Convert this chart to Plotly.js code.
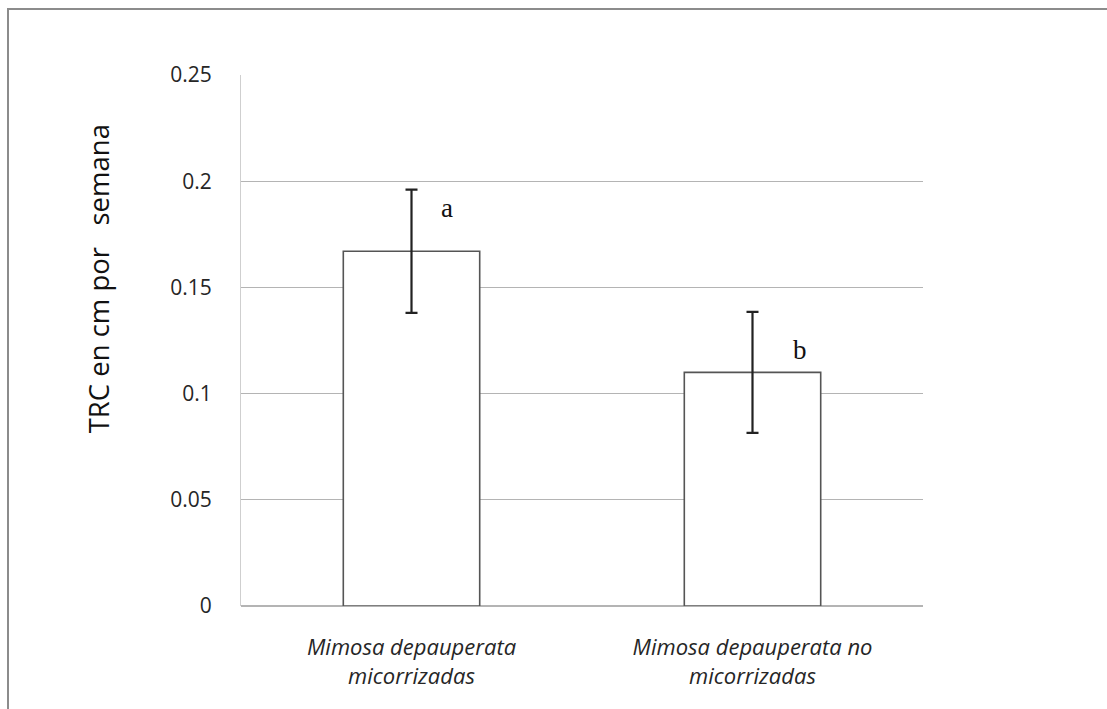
<!DOCTYPE html>
<html>
<head>
<meta charset="utf-8">
<script src="https://cdn.plot.ly/plotly-3.0.1.min.js"></script>
<style>
  html, body { margin: 0; padding: 0; background: #fff; }
  #wrap { position: relative; width: 1107px; height: 709px; overflow: hidden; }
  #frame { position: absolute; left: 7px; top: 8px; right: -4px; bottom: -4px;
           border-top: 2px solid #8c8c8c; border-left: 2px solid #8c8c8c; pointer-events: none; }
  #chart { position: absolute; left: 0; top: 0; width: 1107px; height: 709px; }
</style>
</head>
<body>
<div id="wrap">
  <div id="chart"></div>
  <div id="frame"></div>
</div>
<script>
// Tasa relativa de crecimiento (cm por semana) por tratamiento
const categories = ['Mimosa depauperata<br>micorrizadas', 'Mimosa depauperata no<br>micorrizadas'];
const means = [0.167, 0.110];
const errors = [0.029, 0.0285];
const groupLetters = ['a', 'b'];
const yTickValues = [0, 0.05, 0.1, 0.15, 0.2, 0.25];
const yTickLabels = ['0', '0.05', '0.1', '0.15', '0.2', '0.25'];
const yTitle = 'TRC en cm por\u00a0\u00a0 semana';

const bars = {
  type: 'bar',
  x: categories,
  y: means,
  marker: { color: '#ffffff', line: { color: '#555555', width: 1.6 } },
  error_y: { type: 'data', array: errors, visible: true, color: '#222222', thickness: 2.2, width: 6 },
  hoverinfo: 'skip'
};

// letter placement offsets (pixels) beside each error bar
const letterShift = [{ x: 35, y: -18 }, { x: 47, y: -38 }];

const annotations = groupLetters.map((t, i) => ({
  x: categories[i], y: means[i] + errors[i], xref: 'x', yref: 'y',
  text: t, showarrow: false, xshift: letterShift[i].x, yshift: letterShift[i].y,
  xanchor: 'center', yanchor: 'middle',
  font: { family: 'Liberation Serif, Times New Roman, serif', size: 27, color: '#111' }
}));

annotations.push({
  xref: 'paper', yref: 'paper', x: -0.209, y: 0.616,
  text: yTitle, textangle: -90, showarrow: false,
  xanchor: 'center', yanchor: 'middle',
  font: { family: 'Open Sans, sans-serif', size: 27.5, color: '#111' }
});

const layout = {
  width: 1107, height: 709,
  margin: { l: 241, r: 184, t: 75, b: 103, pad: 0 },
  paper_bgcolor: '#ffffff', plot_bgcolor: '#ffffff',
  showlegend: false,
  bargap: 0.6,
  font: { family: 'Open Sans, sans-serif', color: '#222' },
  xaxis: {
    type: 'category',
    showgrid: false, zeroline: false, showline: false,
    ticks: '', ticklabelstandoff: 26,
    tickfont: { family: 'Open Sans, sans-serif', size: 22, style: 'italic', color: '#262626' }
  },
  yaxis: {
    range: [0, 0.25],
    tickmode: 'array', tickvals: yTickValues, ticktext: yTickLabels,
    showgrid: true, gridcolor: '#b4b4b4', gridwidth: 1.3,
    zeroline: true, zerolinecolor: '#b4b4b4', zerolinewidth: 1.3,
    showline: true, linecolor: '#cfcfcf', linewidth: 1,
    ticks: '', ticklabelstandoff: 24,
    tickfont: { family: 'Open Sans, sans-serif', size: 21, color: '#262626' }
  },
  annotations: annotations
};

Plotly.newPlot('chart', [bars], layout, { staticPlot: true, displayModeBar: false });
</script>
</body>
</html>
